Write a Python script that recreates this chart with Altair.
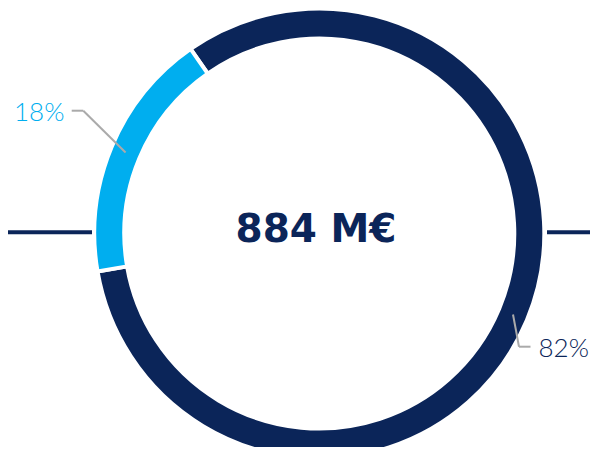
import math
import altair as alt
import pandas as pd

# ---- data ----
categories = ["A", "B"]
values = [82, 18]
labels = ["82%", "18%"]
colors = ["#0B2559", "#00AEEF"]
center_label = ["884 M€"]

# ---- layout ----
W, H = 582, 439
cx, cy = 311.3, 225.5
r_out, r_in = 225, 195
r_mid = 210
start = math.radians(325.1)

df = pd.DataFrame({"cat": categories, "value": values, "ord": [0, 1],
                   "label": labels})

arc = alt.Chart(df).mark_arc(
    outerRadius=r_out, innerRadius=r_in, stroke="white", strokeWidth=4
).encode(
    theta=alt.Theta("value:Q", stack=True,
                    scale=alt.Scale(domain=[0, 100], range=[start, start + 2 * math.pi])),
    color=alt.Color("cat:N", scale=alt.Scale(domain=categories, range=colors), legend=None),
    order=alt.Order("ord:Q"),
    x=alt.value(cx), y=alt.value(cy),
)

# leader lines: start at ring middle of each segment's mid-angle
total = sum(values)
acc = 0
mids = []
for v in values:
    mids.append(start + 2 * math.pi * (acc + v / 2) / total)
    acc += v
elbows = [(511.0, 338.7), (75.3, 102.7)]
ends = [(522.5, 338.7), (63.7, 102.7)]
text_pos = [(530.5, 348.7), (6, 112.7)]

seg_rows = []
for m, e, t in zip(mids, elbows, ends):
    px = cx + r_mid * math.sin(m)
    py = cy - r_mid * math.cos(m)
    seg_rows.append({"x": px, "y": py, "x2": e[0], "y2": e[1]})
    seg_rows.append({"x": e[0], "y": e[1], "x2": t[0], "y2": t[1]})
seg_df = pd.DataFrame(seg_rows)

leaders = alt.Chart(seg_df).mark_rule(color="#AAAAAA", strokeWidth=2).encode(
    x=alt.X("x:Q", scale=None), y=alt.Y("y:Q", scale=None),
    x2="x2:Q", y2="y2:Q",
)

lab_df = pd.DataFrame({"label": labels, "cat": categories,
                       "x": [p[0] for p in text_pos], "y": [p[1] for p in text_pos]})
pct = alt.Chart(lab_df).mark_text(
    font="Lato", fontWeight=300, fontSize=26, align="left", baseline="alphabetic"
).encode(
    x=alt.X("x:Q", scale=None), y=alt.Y("y:Q", scale=None),
    text="label:N",
    color=alt.Color("cat:N", scale=alt.Scale(domain=categories, range=colors), legend=None),
)

ctr = alt.Chart(pd.DataFrame({"t": center_label})).mark_text(
    font="DejaVu Sans", fontWeight="bold", fontSize=39, align="center",
    baseline="alphabetic", color="#0B2559"
).encode(x=alt.value(308), y=alt.value(233.7), text="t:N")

hl = alt.Chart(pd.DataFrame({"a": [0]})).mark_rule(color="#0B2559", strokeWidth=4).encode(
    x=alt.value(0), x2=alt.value(84), y=alt.value(224.3))
hr = alt.Chart(pd.DataFrame({"a": [0]})).mark_rule(color="#0B2559", strokeWidth=4).encode(
    x=alt.value(539), x2=alt.value(W), y=alt.value(224.3))

chart = alt.layer(hl, hr, arc, leaders, pct, ctr).properties(
    width=W, height=H, autosize=alt.AutoSizeParams(type="none"), padding=0,
    background="white"
).configure_view(stroke=None)

chart.save("out.html", embed_options={"renderer": "svg", "actions": False})
